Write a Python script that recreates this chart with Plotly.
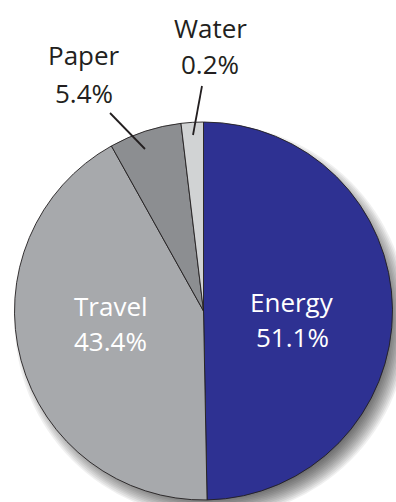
import plotly.graph_objects as go

# Data (slice sizes; printed shares as labelled)
categories = ["Energy", "Travel", "Paper", "Water"]
slice_sizes = [49.7, 42.2, 6.2, 1.9]
printed_shares = ["51.1%", "43.4%", "5.4%", "0.2%"]
colors = ["#2E3192", "#A7A9AC", "#8C8E91", "#D1D3D4"]

W, H = 396, 502
cx, cy, r = 203.5, 311.0, 189.0


def px(x):
    return x / W


def py(y):
    return 1 - y / H


fig = go.Figure()
fig.add_trace(go.Pie(
    labels=categories,
    values=slice_sizes,
    sort=False,
    direction="clockwise",
    rotation=0,
    marker=dict(colors=colors, line=dict(color="#231F20", width=0.9)),
    textinfo="none",
    hoverinfo="skip",
    showlegend=False,
    domain=dict(x=[px(cx - r), px(cx + r)], y=[py(cy + r), py(cy - r)]),
))

# soft drop shadow (stacked translucent discs)
shapes = []
sx, sy = cx + 8, cy + 10
n = 14
for k in range(n):
    rr = 176 + k * (21.0 / (n - 1))
    shapes.append(dict(
        type="circle", layer="below",
        xref="paper", yref="paper",
        xsizemode="pixel", ysizemode="pixel",
        xanchor=px(sx), yanchor=py(sy),
        x0=-rr, x1=rr, y0=-rr, y1=rr,
        fillcolor="rgba(0,0,0,0.06)", line=dict(width=0),
    ))

# leader lines
for (x0, y0, x1, y1) in [(110, 113, 145, 149), (202, 86, 193, 135)]:
    shapes.append(dict(
        type="line", layer="above", xref="paper", yref="paper",
        x0=px(x0), y0=py(y0), x1=px(x1), y1=py(y1),
        line=dict(color="#231F20", width=1.8),
    ))

font_family = "Open Sans"
fs = 26
label_pos = {
    "Energy": (292, 301.5, 337, "white"),
    "Travel": (111, 306, 341, "white"),
    "Paper": (84, 55, 92.5, "#231F20"),
    "Water": (210, 28, 64, "#231F20"),
}
annotations = []
for cat, share in zip(categories, printed_shares):
    x, y1, y2, col = label_pos[cat]
    for txt, yy in [(cat, y1), (share, y2)]:
        annotations.append(dict(
            text=txt, x=px(x), y=py(yy), xref="paper", yref="paper",
            xanchor="center", yanchor="middle", showarrow=False,
            font=dict(family=font_family, size=fs, color=col),
        ))

fig.update_layout(
    width=W, height=H,
    margin=dict(l=0, r=0, t=0, b=0),
    paper_bgcolor="white", plot_bgcolor="white",
    shapes=shapes, annotations=annotations,
    showlegend=False,
)

fig.write_html("out.html")
